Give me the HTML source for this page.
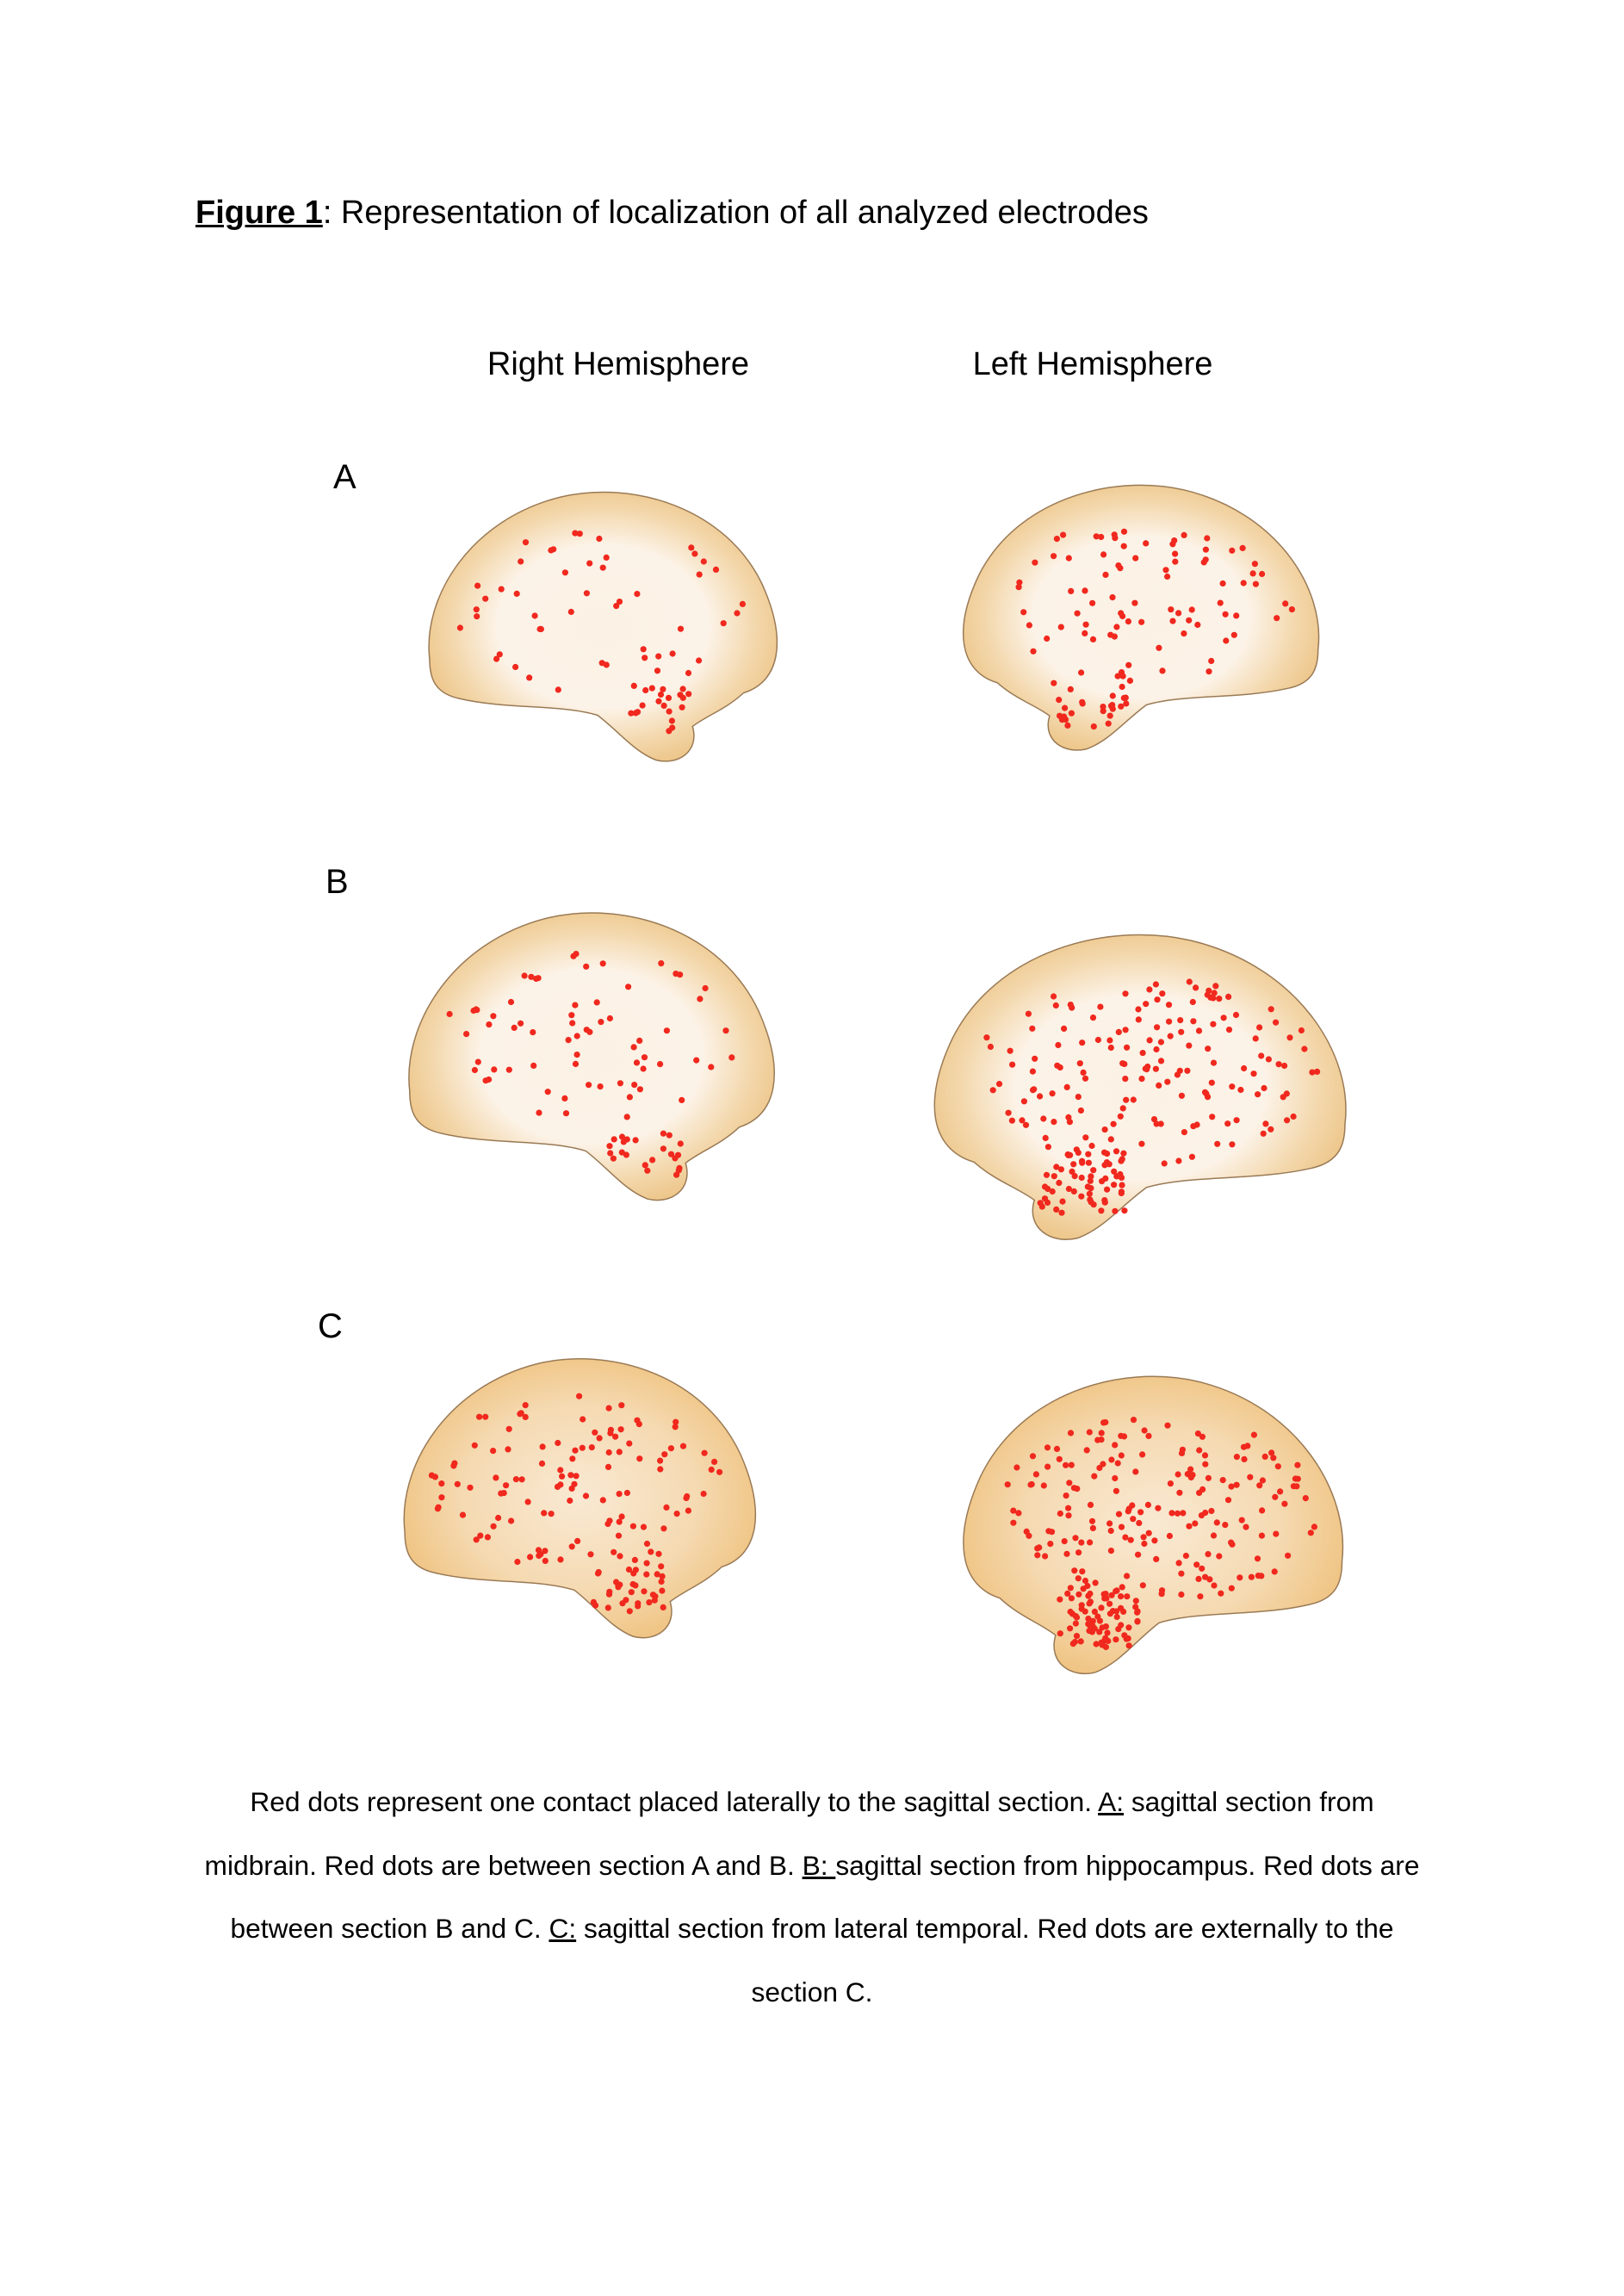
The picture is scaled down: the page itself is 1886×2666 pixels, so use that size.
<!DOCTYPE html>
<html><head><meta charset="utf-8">
<style>
html,body{margin:0;padding:0;background:#fff}
body{width:1886px;height:2666px;position:relative;overflow:hidden;font-family:"Liberation Sans",Arial,sans-serif;color:#000}
.t{position:absolute;white-space:nowrap}
svg{position:absolute;left:0;top:0}
</style></head><body>
<div class="t" style="left:227px;top:226px;font-size:38px"><b style="text-decoration:underline;text-decoration-thickness:3px">Figure 1</b>: Representation of localization of all analyzed electrodes</div>
<div class="t" style="left:718px;top:402px;font-size:38px;transform:translateX(-50%)">Right Hemisphere</div>
<div class="t" style="left:1269px;top:402px;font-size:38px;transform:translateX(-50%)">Left Hemisphere</div>
<div class="t" style="left:387px;top:532px;font-size:40px">A</div>
<div class="t" style="left:378px;top:1002px;font-size:40px">B</div>
<div class="t" style="left:369px;top:1518px;font-size:40px">C</div>
<div class="t" style="left:0;width:1886px;text-align:center;top:2056px;font-size:31.7px;white-space:normal;line-height:73.5px">
Red dots represent one contact placed laterally to the sagittal section. <u>A:</u> sagittal section from<br>
midbrain. Red dots are between section A and B. <u>B: </u>sagittal section from hippocampus. Red dots are<br>
between section B and C. <u>C:</u> sagittal section from lateral temporal. Red dots are externally to the<br>
section C.</div>
<svg id="s" width="1886" height="2666" viewBox="0 0 1886 2666">
<defs>
<radialGradient id="g1" cx="50%" cy="50%" r="55%"><stop offset="0" stop-color="#fbf1e4"/><stop offset="0.55" stop-color="#fcf3e8"/><stop offset="0.8" stop-color="#f3d7ab"/><stop offset="1" stop-color="#ecc384"/></radialGradient>
<radialGradient id="g2" cx="50%" cy="50%" r="55%"><stop offset="0" stop-color="#f9e9d3"/><stop offset="0.6" stop-color="#f5dab2"/><stop offset="1" stop-color="#efc27f"/></radialGradient>
</defs>
<g id="brains"></g><g id="dots" fill="#f0281e"></g>
</svg>
<script>
var P="M4,62 C2,40 15,12 40,4 C60,-2 85,8 95,35 C102,55 100,70 90,74 C85,80 80,82 76,86 C78,95 72,100 66,98 C60,95 56,88 50,82 C40,78 25,80 12,76 C5,74 4,68 4,62 Z";
var B=[[482,564,424,325,0,'g1',70],[1115,556,433,320,1,'g1',110],[458,1052,445,347,0,'g1',90],[1081,1077,501,368,1,'g1',220],[453,1570,428,337,0,'g2',150],[1115,1590,462,359,1,'g2',260]];
var g=document.getElementById('brains'),d=document.getElementById('dots'),NS="http://www.w3.org/2000/svg";
var seed=7;function r(){seed=(seed*16807)%2147483647;return seed/2147483647;}
B.forEach(function(b){
 var p=document.createElementNS(NS,'path');p.setAttribute('d',P);
 var tr='translate('+b[0]+','+b[1]+') ';
 if(b[4])tr+='translate('+b[2]+',0) scale(-'+(b[2]/100)+','+(b[3]/100)+')';else tr+='scale('+(b[2]/100)+','+(b[3]/100)+')';
 p.setAttribute('transform',tr);p.setAttribute('fill','url(#'+b[5]+')');
 p.setAttribute('stroke','#9a7a55');p.setAttribute('stroke-width','1.5');p.setAttribute('vector-effect','non-scaling-stroke');
 g.appendChild(p);
 for(var i=0;i<b[6];i++){
  var x,y;
  if(r()<0.3){x=55+r()*20;y=70+r()*20;}
  else{var a=r()*6.283,q=Math.sqrt(r());x=50+Math.cos(a)*q*40;y=45+Math.sin(a)*q*30;}
  if(b[4])x=100-x;
  var c=document.createElementNS(NS,'circle');
  c.setAttribute('cx',(b[0]+x*b[2]/100).toFixed(1));c.setAttribute('cy',(b[1]+y*b[3]/100).toFixed(1));c.setAttribute('r','3.6');
  d.appendChild(c);
 }
});
</script>
</body></html>
